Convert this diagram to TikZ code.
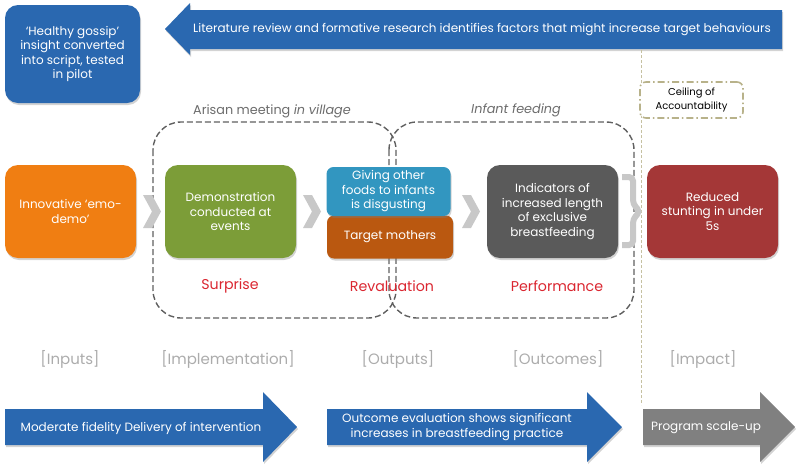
\documentclass[tikz,border=0pt]{standalone}
\usepackage{fontspec}
\setmainfont{Poppins}
\usepackage{xcolor}
\usepackage{tikz}
\usetikzlibrary{shadows}

\definecolor{arrowblue}{RGB}{42,104,176}
\definecolor{emoorange}{RGB}{240,126,18}
\definecolor{demogreen}{RGB}{124,157,56}
\definecolor{outteal}{RGB}{50,150,192}
\definecolor{outbrown}{RGB}{186,88,16}
\definecolor{outgray}{RGB}{90,90,90}
\definecolor{impactred}{RGB}{164,55,55}
\definecolor{scalegray}{RGB}{128,128,128}
\definecolor{stagered}{RGB}{218,38,48}
\definecolor{stagegray}{RGB}{172,172,172}
\definecolor{chevgray}{RGB}{200,200,200}
\definecolor{ceilkhaki}{RGB}{184,178,138}

\begin{document}
\begin{tikzpicture}[x=1pt, y=-1pt,
    every node/.style={inner sep=0pt},
    shade/.style={drop shadow={opacity=0.35, shadow xshift=1pt, shadow yshift=-2pt}},
    box/.style={rounded corners=13pt, minimum width=131pt, minimum height=93pt, shade},
    boxtext/.style={text=white, align=center, font=\fontsize{12}{14.5}\selectfont},
    groupbox/.style={draw=gray!75!black, line width=1.4pt, dash pattern=on 6pt off 3pt, rounded corners=28pt},
    stage/.style={text=stagered, font=\fontsize{14.2}{16}\selectfont},
    phase/.style={text=stagegray, font=\fontsize{15}{17}\selectfont},
    chevron/.style={fill=chevgray, draw=none}]
  \useasboundingbox (0,0) rectangle (800,467);

  % Top row
  \node[box, fill=arrowblue, minimum width=135pt, minimum height=98pt] (gossip) at (72.5,54) {};
  \node[boxtext] (gossiptext) at (gossip) {‘Healthy gossip’\\insight converted\\into script, tested\\in pilot};
  \fill[arrowblue, shade] (165,29) -- (190,3) -- (190,10) -- (782,10) -- (782,49) -- (190,49) -- (190,55) -- cycle;
  \node[boxtext] (litreview) at (482,29.5) {Literature review and formative research identifies factors that might increase target behaviours};

  % Ceiling of accountability
  \coordinate (divtop) at (641,50);
  \coordinate (divbot) at (641,405);
  \draw[ceilkhaki!80, line width=0.8pt, dash pattern=on 3pt off 2pt] (divtop) -- (divbot);
  \node[draw=ceilkhaki, line width=1.6pt, dash pattern=on 7pt off 3pt on 1.5pt off 3pt, rounded corners=6pt,
        fill=white, minimum width=103pt, minimum height=36pt, align=center,
        font=\fontsize{10}{14}\selectfont] (ceiling) at (691.5,100) {Ceiling of\\Accountability};

  % Group boxes
  \draw[groupbox] (153,122) rectangle (396,318);
  \draw[groupbox] (389,122) rectangle (634,318);
  \node[text=gray!85!black, font=\fontsize{12.8}{15}\selectfont] (arisan) at (272,111) {Arisan meeting \textit{in village}};
  \node[text=gray!85!black, font=\fontsize{12.8}{15}\selectfont\itshape] (infant) at (516,110) {Infant feeding};

  % Process boxes
  \node[box, fill=emoorange] (emo) at (70.5,211.5) {};
  \node[boxtext] at (emo) {Innovative ‘emo-\\demo’};
  \node[box, fill=demogreen] (demo) at (230.5,211.5) {};
  \node[boxtext] at (demo) {Demonstration\\conducted at\\events};
  \node[box, fill=outbrown, minimum width=126pt, minimum height=43pt, rounded corners=7pt] (mothers) at (390,237) {};
  \node[boxtext] at (mothers) {Target mothers};
  \node[box, fill=outteal, minimum width=124pt, minimum height=49pt, rounded corners=7pt] (disgust) at (388.5,191.5) {};
  \node[boxtext] at (disgust) {Giving other\\foods to infants\\is disgusting};
  \node[box, fill=outgray] (indicators) at (552.5,211.5) {};
  \node[boxtext] at (indicators) {Indicators of\\increased length\\of exclusive\\breastfeeding};
  \node[box, fill=impactred] (stunting) at (712.5,211.5) {};
  \node[boxtext] at (stunting) {Reduced\\stunting in under\\5s};

  % Chevrons
  \fill[chevron] (143,195) -- (152,195) -- (161,211.5) -- (152,228) -- (143,228) -- (152,211.5) -- cycle;
  \fill[chevron] (303,195) -- (312,195) -- (321,211.5) -- (312,228) -- (303,228) -- (312,211.5) -- cycle;
  \fill[chevron] (462,195) -- (471,195) -- (480,211.5) -- (471,228) -- (462,228) -- (471,211.5) -- cycle;
  \draw[chevgray, line width=6pt, rounded corners=4pt] (622,177) -- (633,177) -- (633,204) -- (640,211.5) -- (633,219) -- (633,245) -- (622,245);

  % Stage labels
  \node[stage] (surprise) at (230,286) {Surprise};
  \node[stage] (revaluation) at (392,286) {Revaluation};
  \node[stage] (performance) at (557,286) {Performance};

  \node[phase] (inputs) at (70,359) {[Inputs]};
  \node[phase] (implementation) at (228,359) {[Implementation]};
  \node[phase] (outputs) at (398,359) {[Outputs]};
  \node[phase] (outcomes) at (558,359) {[Outcomes]};
  \node[phase] (impact) at (703,359) {[Impact]};

  % Bottom arrows
  \fill[arrowblue, shade] (5,409) -- (263,409) -- (263,392) -- (297,427) -- (263,462) -- (263,445) -- (5,445) -- cycle;
  \node[boxtext] (fidelity) at (141,428) {Moderate fidelity Delivery of intervention};
  \fill[arrowblue, shade] (327,409) -- (587,409) -- (587,392) -- (622,427) -- (587,462) -- (587,445) -- (327,445) -- cycle;
  \node[boxtext] (evaluation) at (457,427) {Outcome evaluation shows significant\\increases in breastfeeding practice};
  \fill[scalegray, shade] (643,409) -- (760,409) -- (760,392) -- (795,427) -- (760,462) -- (760,445) -- (643,445) -- cycle;
  \node[boxtext] (scaleup) at (706,428) {Program scale-up};
\end{tikzpicture}
\end{document}
